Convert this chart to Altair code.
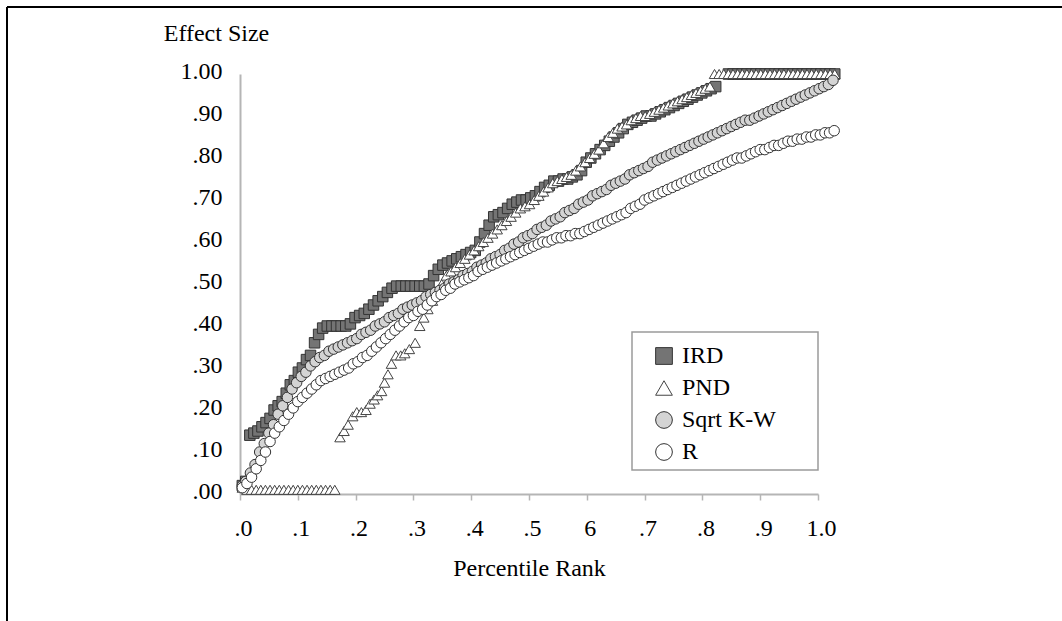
import json
import altair as alt
import pandas as pd

series_names = ["IRD", "PND", "Sqrt K-W", "R"]
x_tick_labels = [".0", ".1", ".2", ".3", ".4", ".5", "6", ".7", ".8", ".9", "1.0"]
y_tick_labels = [".00", ".10", ".20", ".30", ".40", ".50", ".60", ".70", ".80", ".90", "1.00"]

ird_points = [
    (0.004, 0.02), (0.010, 0.03), (0.017, 0.14), (0.024, 0.145), (0.031, 0.15), (0.038, 0.16),
    (0.045, 0.17), (0.052, 0.18), (0.059, 0.20), (0.066, 0.21), (0.073, 0.22), (0.080, 0.24),
    (0.087, 0.26), (0.094, 0.27), (0.101, 0.29), (0.108, 0.30), (0.115, 0.32), (0.122, 0.33),
    (0.129, 0.36), (0.136, 0.38), (0.143, 0.395), (0.151, 0.40), (0.159, 0.40), (0.167, 0.40),
    (0.175, 0.40), (0.183, 0.40), (0.191, 0.405), (0.199, 0.42), (0.207, 0.425), (0.215, 0.43),
    (0.223, 0.44), (0.231, 0.45), (0.239, 0.46), (0.247, 0.47), (0.255, 0.48), (0.263, 0.49),
    (0.271, 0.495), (0.279, 0.495), (0.287, 0.495), (0.295, 0.495), (0.303, 0.495), (0.311, 0.495),
    (0.319, 0.495), (0.327, 0.50), (0.335, 0.52), (0.343, 0.535), (0.351, 0.545), (0.359, 0.55),
    (0.367, 0.555), (0.375, 0.56), (0.383, 0.565), (0.391, 0.57), (0.399, 0.575), (0.407, 0.58),
    (0.415, 0.60), (0.423, 0.62), (0.431, 0.64), (0.439, 0.66), (0.447, 0.665), (0.455, 0.67),
    (0.463, 0.68), (0.471, 0.69), (0.479, 0.695), (0.487, 0.70), (0.495, 0.70), (0.503, 0.705),
    (0.511, 0.71), (0.519, 0.72), (0.527, 0.73), (0.535, 0.735), (0.543, 0.745), (0.551, 0.745),
    (0.559, 0.75), (0.567, 0.75), (0.575, 0.755), (0.583, 0.76), (0.591, 0.77), (0.599, 0.79),
    (0.607, 0.80), (0.615, 0.81), (0.623, 0.82), (0.631, 0.83), (0.639, 0.84), (0.647, 0.85),
    (0.655, 0.86), (0.663, 0.87), (0.671, 0.88), (0.679, 0.885), (0.687, 0.89), (0.695, 0.895),
    (0.703, 0.90), (0.711, 0.90), (0.719, 0.905), (0.727, 0.91), (0.735, 0.915), (0.743, 0.92),
    (0.751, 0.925), (0.759, 0.93), (0.767, 0.935), (0.775, 0.94), (0.783, 0.945), (0.791, 0.95),
    (0.799, 0.955), (0.807, 0.96), (0.815, 0.965), (0.823, 0.97), (0.845, 1.0), (0.853, 1.0),
    (0.861, 1.0), (0.869, 1.0), (0.877, 1.0), (0.885, 1.0), (0.893, 1.0), (0.901, 1.0),
    (0.909, 1.0), (0.917, 1.0), (0.925, 1.0), (0.933, 1.0), (0.941, 1.0), (0.949, 1.0),
    (0.957, 1.0), (0.965, 1.0), (0.973, 1.0), (0.981, 1.0), (0.989, 1.0), (0.997, 1.0),
    (1.005, 1.0), (1.013, 1.0), (1.021, 1.0), (1.029, 1.0),
]

pnd_points = [
    (0.004, 0.015), (0.012, 0.01), (0.020, 0.01), (0.028, 0.01), (0.036, 0.01), (0.044, 0.01),
    (0.052, 0.01), (0.060, 0.01), (0.068, 0.01), (0.076, 0.01), (0.084, 0.01), (0.092, 0.01),
    (0.100, 0.01), (0.108, 0.01), (0.116, 0.01), (0.124, 0.01), (0.132, 0.01), (0.140, 0.01),
    (0.148, 0.01), (0.156, 0.01), (0.164, 0.01),
    (0.173, 0.135), (0.180, 0.15), (0.187, 0.165), (0.195, 0.185), (0.202, 0.195), (0.210, 0.195),
    (0.218, 0.20), (0.225, 0.215), (0.232, 0.225), (0.238, 0.235), (0.245, 0.245), (0.250, 0.265),
    (0.256, 0.285), (0.262, 0.31), (0.270, 0.33), (0.278, 0.33), (0.285, 0.335), (0.293, 0.345),
    (0.303, 0.36), (0.311, 0.40), (0.318, 0.42), (0.325, 0.44), (0.333, 0.46), (0.341, 0.48),
    (0.349, 0.50), (0.357, 0.52), (0.365, 0.53), (0.373, 0.54), (0.381, 0.55), (0.389, 0.56),
    (0.397, 0.57), (0.405, 0.58), (0.413, 0.59), (0.421, 0.60), (0.429, 0.61), (0.437, 0.62),
    (0.445, 0.63), (0.453, 0.64), (0.461, 0.65), (0.469, 0.66), (0.477, 0.67), (0.485, 0.68),
    (0.493, 0.685), (0.501, 0.69), (0.509, 0.70), (0.517, 0.71), (0.525, 0.72), (0.533, 0.73),
    (0.541, 0.74), (0.549, 0.745), (0.557, 0.75), (0.565, 0.755), (0.573, 0.76), (0.581, 0.77),
    (0.589, 0.78), (0.597, 0.79), (0.605, 0.80), (0.613, 0.81), (0.621, 0.82), (0.629, 0.835),
    (0.637, 0.85), (0.645, 0.86), (0.653, 0.87), (0.661, 0.875), (0.669, 0.88), (0.677, 0.89),
    (0.685, 0.895), (0.693, 0.90), (0.701, 0.90), (0.709, 0.905), (0.717, 0.91), (0.725, 0.915),
    (0.733, 0.92), (0.741, 0.925), (0.749, 0.93), (0.757, 0.935), (0.765, 0.94), (0.773, 0.945),
    (0.781, 0.95), (0.789, 0.955), (0.797, 0.96), (0.805, 0.965), (0.813, 0.97),
    (0.821, 1.0), (0.829, 1.0), (0.837, 1.0), (0.845, 1.0), (0.853, 1.0), (0.861, 1.0),
    (0.869, 1.0), (0.877, 1.0), (0.885, 1.0), (0.893, 1.0), (0.901, 1.0), (0.909, 1.0),
    (0.917, 1.0), (0.925, 1.0), (0.933, 1.0), (0.941, 1.0), (0.949, 1.0), (0.957, 1.0),
    (0.965, 1.0), (0.973, 1.0), (0.981, 1.0), (0.989, 1.0), (0.997, 1.0), (1.005, 1.0),
    (1.013, 1.0), (1.021, 1.0), (1.029, 1.0),
]

kw_points = [
    (0.004, 0.02), (0.010, 0.03), (0.018, 0.05), (0.026, 0.07), (0.034, 0.10), (0.042, 0.12),
    (0.050, 0.145), (0.058, 0.165), (0.066, 0.19), (0.074, 0.21), (0.082, 0.23), (0.090, 0.25),
    (0.098, 0.265), (0.106, 0.28), (0.114, 0.29), (0.122, 0.305), (0.130, 0.315), (0.138, 0.325),
    (0.146, 0.33), (0.154, 0.34), (0.162, 0.345), (0.170, 0.35), (0.178, 0.355), (0.186, 0.36),
    (0.194, 0.365), (0.202, 0.37), (0.210, 0.38), (0.218, 0.385), (0.226, 0.39), (0.234, 0.40),
    (0.242, 0.405), (0.250, 0.41), (0.258, 0.42), (0.266, 0.425), (0.274, 0.43), (0.282, 0.44),
    (0.290, 0.445), (0.298, 0.45), (0.306, 0.455), (0.314, 0.46), (0.322, 0.47), (0.330, 0.475),
    (0.338, 0.48), (0.346, 0.485), (0.354, 0.49), (0.362, 0.50), (0.370, 0.505), (0.378, 0.51),
    (0.386, 0.52), (0.394, 0.525), (0.402, 0.53), (0.410, 0.54), (0.418, 0.545), (0.426, 0.55),
    (0.434, 0.56), (0.442, 0.565), (0.450, 0.57), (0.458, 0.58), (0.466, 0.585), (0.474, 0.595),
    (0.482, 0.60), (0.490, 0.61), (0.498, 0.615), (0.506, 0.62), (0.514, 0.63), (0.522, 0.635),
    (0.530, 0.64), (0.538, 0.65), (0.546, 0.655), (0.554, 0.66), (0.562, 0.67), (0.570, 0.675),
    (0.578, 0.68), (0.586, 0.69), (0.594, 0.695), (0.602, 0.70), (0.610, 0.71), (0.618, 0.715),
    (0.626, 0.72), (0.634, 0.725), (0.642, 0.735), (0.650, 0.74), (0.658, 0.745), (0.666, 0.75),
    (0.674, 0.76), (0.682, 0.765), (0.690, 0.77), (0.698, 0.775), (0.706, 0.78), (0.714, 0.79),
    (0.722, 0.795), (0.730, 0.80), (0.738, 0.805), (0.746, 0.81), (0.754, 0.815), (0.762, 0.82),
    (0.770, 0.825), (0.778, 0.83), (0.786, 0.835), (0.794, 0.84), (0.802, 0.845), (0.810, 0.85),
    (0.818, 0.855), (0.826, 0.86), (0.834, 0.865), (0.842, 0.87), (0.850, 0.875), (0.858, 0.88),
    (0.866, 0.885), (0.874, 0.89), (0.882, 0.89), (0.890, 0.895), (0.898, 0.90), (0.906, 0.905),
    (0.914, 0.91), (0.922, 0.915), (0.930, 0.92), (0.938, 0.925), (0.946, 0.93), (0.954, 0.935),
    (0.962, 0.94), (0.970, 0.945), (0.978, 0.95), (0.986, 0.955), (0.994, 0.96), (1.002, 0.965),
    (1.010, 0.97), (1.018, 0.975), (1.026, 0.985),
]

r_points = [
    (0.004, 0.015), (0.012, 0.025), (0.020, 0.04), (0.028, 0.06), (0.036, 0.08), (0.044, 0.10),
    (0.052, 0.125), (0.060, 0.145), (0.068, 0.16), (0.076, 0.175), (0.084, 0.19), (0.092, 0.205),
    (0.100, 0.22), (0.108, 0.23), (0.116, 0.24), (0.124, 0.25), (0.132, 0.26), (0.140, 0.27),
    (0.148, 0.275), (0.156, 0.28), (0.164, 0.285), (0.172, 0.29), (0.180, 0.295), (0.188, 0.30),
    (0.196, 0.31), (0.204, 0.315), (0.212, 0.325), (0.220, 0.33), (0.228, 0.34), (0.236, 0.35),
    (0.244, 0.36), (0.252, 0.37), (0.260, 0.38), (0.268, 0.39), (0.276, 0.40), (0.284, 0.41),
    (0.292, 0.42), (0.300, 0.425), (0.308, 0.435), (0.316, 0.44), (0.324, 0.45), (0.332, 0.46),
    (0.340, 0.47), (0.348, 0.475), (0.356, 0.485), (0.364, 0.49), (0.372, 0.50), (0.380, 0.505),
    (0.388, 0.51), (0.396, 0.515), (0.404, 0.52), (0.412, 0.53), (0.420, 0.535), (0.428, 0.54),
    (0.436, 0.545), (0.444, 0.55), (0.452, 0.555), (0.460, 0.56), (0.468, 0.565), (0.476, 0.57),
    (0.484, 0.575), (0.492, 0.58), (0.500, 0.585), (0.508, 0.59), (0.516, 0.595), (0.524, 0.60),
    (0.532, 0.60), (0.540, 0.605), (0.548, 0.61), (0.556, 0.61), (0.564, 0.615), (0.572, 0.615),
    (0.580, 0.62), (0.588, 0.62), (0.596, 0.625), (0.604, 0.63), (0.612, 0.635), (0.620, 0.64),
    (0.628, 0.645), (0.636, 0.65), (0.644, 0.655), (0.652, 0.66), (0.660, 0.665), (0.668, 0.67),
    (0.676, 0.68), (0.684, 0.685), (0.692, 0.69), (0.700, 0.70), (0.708, 0.705), (0.716, 0.71),
    (0.724, 0.715), (0.732, 0.72), (0.740, 0.725), (0.748, 0.73), (0.756, 0.735), (0.764, 0.74),
    (0.772, 0.745), (0.780, 0.75), (0.788, 0.755), (0.796, 0.76), (0.804, 0.765), (0.812, 0.77),
    (0.820, 0.775), (0.828, 0.78), (0.836, 0.785), (0.844, 0.79), (0.852, 0.795), (0.860, 0.80),
    (0.868, 0.80), (0.876, 0.805), (0.884, 0.81), (0.892, 0.815), (0.900, 0.82), (0.908, 0.82),
    (0.916, 0.825), (0.924, 0.83), (0.932, 0.83), (0.940, 0.835), (0.948, 0.84), (0.956, 0.84),
    (0.964, 0.845), (0.972, 0.845), (0.980, 0.85), (0.988, 0.85), (0.996, 0.855), (1.004, 0.855),
    (1.012, 0.86), (1.020, 0.86), (1.028, 0.865),
]

frames = []
for name, pts in zip(series_names, [ird_points, pnd_points, kw_points, r_points]):
    frames.append(pd.DataFrame({
        "series": name,
        "rank": [p[0] for p in pts],
        "effect": [p[1] for p in pts],
    }))
df = pd.concat(frames, ignore_index=True)
df["order"] = range(len(df))

FONT = "Liberation Serif"
W, H = 578, 420
PAD_L, PAD_T = 240, 74

x_expr = json.dumps(x_tick_labels) + "[round(datum.value*10)]"
y_expr = json.dumps(y_tick_labels) + "[round(datum.value*10)]"
tick_vals = [i / 10 for i in range(11)]

legend_spec = alt.Legend(
    title=None, orient="none", legendX=412, legendY=270, padding=0,
    labelFont=FONT, labelFontSize=24, labelColor="black", labelOffset=6,
    symbolSize=280, symbolStrokeWidth=1,
    rowPadding=8, labelLimit=300,
)

box_df = pd.DataFrame({"k": [0]})
legend_box = alt.Chart(box_df).mark_rect(fill="white", stroke="#9a9a9a", strokeWidth=1.5).encode(
    x=alt.value(392), x2=alt.value(578), y=alt.value(258), y2=alt.value(396)
)

points = alt.Chart(df).mark_point(filled=True, strokeWidth=1, opacity=1, size=110).encode(
    x=alt.X("rank:Q", scale=alt.Scale(domain=[0, 1], nice=False, zero=False),
            axis=alt.Axis(values=tick_vals, labelExpr=x_expr, title="Percentile Rank",
                          grid=False, domainColor="#b5b5b5", domainWidth=2,
                          tickColor="#b5b5b5", tickSize=6, tickWidth=1.5,
                          labelFont=FONT, labelFontSize=24, labelColor="black",
                          labelPadding=16, labelBaseline="top", labelFlush=False,
                          labelOverlap=False, labelOffset=3,
                          titleFont=FONT, titleFontSize=24, titleFontWeight="normal",
                          titleColor="black", titleY=81, titleBaseline="alphabetic")),
    y=alt.Y("effect:Q", scale=alt.Scale(domain=[0, 1], nice=False, zero=False),
            axis=alt.Axis(values=tick_vals, labelExpr=y_expr, title="Effect Size",
                          grid=False, ticks=False, domainColor="#b5b5b5", domainWidth=2,
                          labelFont=FONT, labelFontSize=24, labelColor="black",
                          labelPadding=18, labelAlign="right", labelBaseline="middle",
                          labelFlush=False, labelOverlap=False, labelOffset=-3,
                          titleFont=FONT, titleFontSize=24, titleFontWeight="normal",
                          titleColor="black", titleAngle=0, titleX=-24, titleY=-34,
                          titleAlign="center", titleBaseline="alphabetic")),
    shape=alt.Shape("series:N",
                    scale=alt.Scale(domain=series_names,
                                    range=["square", "triangle-up", "circle", "circle"]),
                    legend=legend_spec),
    fill=alt.Fill("series:N",
                  scale=alt.Scale(domain=series_names,
                                  range=["#747474", "#ffffff", "#d4d4d4", "#ffffff"]),
                  legend=legend_spec),
    stroke=alt.Stroke("series:N",
                      scale=alt.Scale(domain=series_names,
                                      range=["#333333", "#444444", "#333333", "#333333"]),
                      legend=legend_spec),
    order="order:Q",
)

frame_top = alt.Chart(box_df).mark_rule(color="black", strokeWidth=2).encode(
    x=alt.value(7 - PAD_L), x2=alt.value(1062 - PAD_L), y=alt.value(7 - PAD_T)
)
frame_left = alt.Chart(box_df).mark_rule(color="black", strokeWidth=2).encode(
    x=alt.value(7 - PAD_L), y=alt.value(7 - PAD_T), y2=alt.value(621 - PAD_T)
)

chart = alt.layer(legend_box, points, frame_top, frame_left).properties(
    width=W, height=H,
    autosize=alt.AutoSizeParams(type="none"),
    padding={"left": PAD_L, "top": PAD_T, "right": 1062 - PAD_L - W, "bottom": 621 - PAD_T - H},
    background="white",
).configure_view(stroke=None)

chart.save("out.html", embed_options={"renderer": "svg", "actions": False})
